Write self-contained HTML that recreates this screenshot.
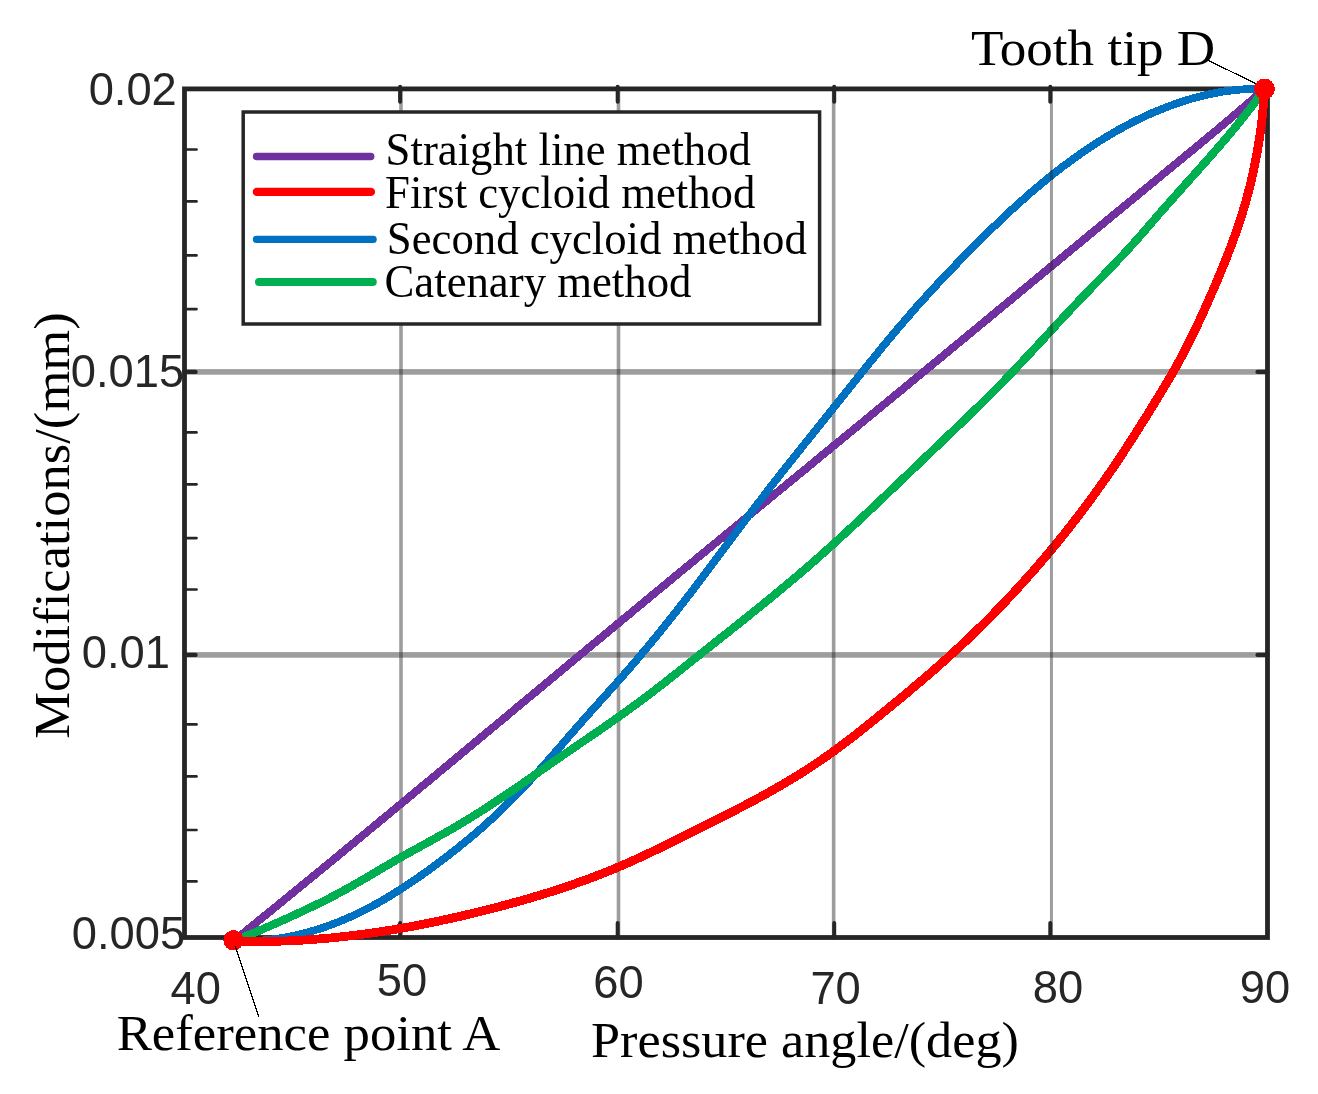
<!DOCTYPE html>
<html><head><meta charset="utf-8"><title>Modification curves</title>
<style>html,body{margin:0;padding:0;background:#fff;}svg{display:block;will-change:transform;}text{font-family:"Liberation Serif",serif;fill:#000;}.tk{font-family:"Liberation Sans",sans-serif;fill:#262626;font-size:45.3px;}</style></head><body>
<svg width="1318" height="1094" viewBox="0 0 1318 1094">
<rect x="0" y="0" width="1318" height="1094" fill="#fff"/>
<g fill="rgba(38,38,38,0.45)">
<rect x="399.20" y="88.9" width="3.6" height="848.6"/>
<rect x="616.70" y="88.9" width="3.6" height="848.6"/>
<rect x="831.85" y="88.9" width="3.6" height="848.6"/>
<rect x="184.5" y="369.1" width="1083.0" height="5.6"/>
<rect x="184.5" y="652.1" width="1083.0" height="5.6"/>
</g>
<rect x="184.5" y="88.9" width="1083.0" height="848.6" fill="none" stroke="#262626" stroke-width="4.8"/>
<g stroke="#262626" stroke-linecap="round" fill="none">
<line x1="184.5" y1="149.5" x2="196.5" y2="149.5" stroke-width="2.7"/>
<line x1="184.5" y1="201.4" x2="196.5" y2="201.4" stroke-width="2.7"/>
<line x1="184.5" y1="255.4" x2="196.5" y2="255.4" stroke-width="2.7"/>
<line x1="184.5" y1="309.1" x2="196.5" y2="309.1" stroke-width="2.7"/>
<line x1="184.5" y1="432.4" x2="196.5" y2="432.4" stroke-width="2.7"/>
<line x1="184.5" y1="484.3" x2="196.5" y2="484.3" stroke-width="2.7"/>
<line x1="184.5" y1="538.1" x2="196.5" y2="538.1" stroke-width="2.7"/>
<line x1="184.5" y1="589.5" x2="196.5" y2="589.5" stroke-width="2.7"/>
<line x1="184.5" y1="724.4" x2="196.5" y2="724.4" stroke-width="2.7"/>
<line x1="184.5" y1="776.4" x2="196.5" y2="776.4" stroke-width="2.7"/>
<line x1="184.5" y1="830.0" x2="196.5" y2="830.0" stroke-width="2.7"/>
<line x1="184.5" y1="881.4" x2="196.5" y2="881.4" stroke-width="2.7"/>
<line x1="184.5" y1="371.9" x2="195.5" y2="371.9" stroke-width="4.4"/>
<line x1="1257.5" y1="371.9" x2="1267.5" y2="371.9" stroke-width="4.2"/>
<line x1="184.5" y1="654.9" x2="195.5" y2="654.9" stroke-width="4.4"/>
<line x1="1257.5" y1="654.9" x2="1267.5" y2="654.9" stroke-width="4.2"/>
<line x1="400.1" y1="86.8" x2="400.1" y2="101.8" stroke-width="4"/>
<line x1="400.1" y1="923" x2="400.1" y2="937.5" stroke-width="4"/>
<line x1="617.7" y1="86.8" x2="617.7" y2="101.8" stroke-width="4"/>
<line x1="617.7" y1="923" x2="617.7" y2="937.5" stroke-width="4"/>
<line x1="834.2" y1="86.8" x2="834.2" y2="101.8" stroke-width="4"/>
<line x1="834.2" y1="923" x2="834.2" y2="937.5" stroke-width="4"/>
<line x1="1050.3" y1="86.8" x2="1050.3" y2="101.8" stroke-width="4"/>
<line x1="1050.3" y1="923" x2="1050.3" y2="937.5" stroke-width="4"/>
</g>
<g fill="none" stroke-linecap="round" stroke-linejoin="round" shape-rendering="crispEdges">
<path d="M233.6 941.0 C235.2 939.7 239.9 935.9 243.1 933.4 C246.2 930.8 249.4 928.3 252.5 925.7 C255.6 923.1 258.8 920.6 261.9 918.0 C265.1 915.5 268.2 912.9 271.4 910.4 C274.5 907.8 277.7 905.2 280.8 902.7 C283.9 900.1 287.1 897.6 290.2 895.0 C293.4 892.4 296.5 889.9 299.6 887.3 C302.8 884.7 305.9 882.2 309.0 879.6 C312.2 877.0 315.3 874.5 318.4 871.9 C321.6 869.3 324.7 866.7 327.8 864.2 C331.0 861.6 334.1 859.0 337.2 856.5 C340.4 853.9 343.5 851.3 346.6 848.7 C349.8 846.1 352.9 843.6 356.0 841.0 C359.1 838.4 362.3 835.8 365.4 833.3 C368.5 830.7 371.6 828.1 374.8 825.5 C377.9 822.9 381.0 820.3 384.1 817.8 C387.3 815.2 390.4 812.6 393.5 810.0 C396.6 807.4 399.8 804.8 402.9 802.3 C406.0 799.7 409.1 797.1 412.2 794.5 C415.4 791.9 418.5 789.3 421.6 786.7 C424.7 784.2 427.8 781.6 431.0 779.0 C434.1 776.4 437.2 773.8 440.3 771.2 C443.4 768.6 446.6 766.0 449.7 763.4 C452.8 760.8 455.9 758.3 459.0 755.7 C462.1 753.1 465.3 750.5 468.4 747.9 C471.5 745.3 474.6 742.7 477.7 740.1 C480.8 737.5 484.0 734.9 487.1 732.3 C490.2 729.7 493.3 727.2 496.4 724.6 C499.5 722.0 502.7 719.4 505.8 716.8 C508.9 714.2 512.0 711.6 515.1 709.0 C518.2 706.4 521.3 703.8 524.5 701.2 C527.6 698.6 530.7 696.0 533.8 693.5 C536.9 690.9 540.0 688.3 543.2 685.7 C546.3 683.1 549.4 680.5 552.5 677.9 C555.6 675.3 558.7 672.7 561.9 670.1 C565.0 667.5 568.1 664.9 571.2 662.4 C574.3 659.8 577.4 657.2 580.6 654.6 C583.7 652.0 586.8 649.4 589.9 646.8 C593.0 644.2 596.2 641.6 599.3 639.1 C602.4 636.5 605.5 633.9 608.6 631.3 C611.8 628.7 614.9 626.1 618.0 623.5 C621.1 620.9 624.2 618.4 627.4 615.8 C630.5 613.2 633.6 610.6 636.7 608.0 C639.9 605.4 643.0 602.9 646.1 600.3 C649.2 597.7 652.4 595.1 655.5 592.5 C658.6 589.9 661.7 587.4 664.9 584.8 C668.0 582.2 671.1 579.6 674.2 577.0 C677.4 574.5 680.5 571.9 683.6 569.3 C686.7 566.7 689.9 564.2 693.0 561.6 C696.1 559.0 699.2 556.4 702.4 553.8 C705.5 551.3 708.6 548.7 711.8 546.1 C714.9 543.5 718.0 541.0 721.1 538.4 C724.3 535.8 727.4 533.2 730.5 530.7 C733.7 528.1 736.8 525.5 739.9 522.9 C743.0 520.4 746.2 517.8 749.3 515.2 C752.4 512.6 755.6 510.1 758.7 507.5 C761.8 504.9 765.0 502.3 768.1 499.8 C771.2 497.2 774.3 494.6 777.5 492.0 C780.6 489.5 783.7 486.9 786.9 484.3 C790.0 481.7 793.1 479.2 796.3 476.6 C799.4 474.0 802.5 471.5 805.7 468.9 C808.8 466.3 811.9 463.7 815.0 461.2 C818.2 458.6 821.3 456.0 824.4 453.4 C827.6 450.9 830.7 448.3 833.8 445.7 C837.0 443.1 840.1 440.6 843.2 438.0 C846.3 435.4 849.5 432.8 852.6 430.3 C855.7 427.7 858.9 425.1 862.0 422.6 C865.1 420.0 868.3 417.4 871.4 414.8 C874.5 412.3 877.6 409.7 880.8 407.1 C883.9 404.5 887.0 402.0 890.2 399.4 C893.3 396.8 896.4 394.2 899.5 391.7 C902.7 389.1 905.8 386.5 908.9 383.9 C912.1 381.3 915.2 378.8 918.3 376.2 C921.4 373.6 924.6 371.0 927.7 368.5 C930.8 365.9 933.9 363.3 937.1 360.7 C940.2 358.1 943.3 355.6 946.5 353.0 C949.6 350.4 952.7 347.8 955.8 345.2 C959.0 342.7 962.1 340.1 965.2 337.5 C968.3 334.9 971.4 332.3 974.6 329.8 C977.7 327.2 980.8 324.6 983.9 322.0 C987.1 319.4 990.2 316.9 993.3 314.3 C996.4 311.7 999.6 309.1 1002.7 306.5 C1005.8 303.9 1008.9 301.4 1012.1 298.8 C1015.2 296.2 1018.3 293.6 1021.4 291.0 C1024.5 288.5 1027.7 285.9 1030.8 283.3 C1033.9 280.7 1037.0 278.1 1040.2 275.5 C1043.3 273.0 1046.4 270.4 1049.5 267.8 C1052.7 265.2 1055.8 262.6 1058.9 260.1 C1062.0 257.5 1065.2 254.9 1068.3 252.3 C1071.4 249.7 1074.5 247.2 1077.7 244.6 C1080.8 242.0 1083.9 239.4 1087.0 236.8 C1090.2 234.3 1093.3 231.7 1096.4 229.1 C1099.5 226.5 1102.7 223.9 1105.8 221.4 C1108.9 218.8 1112.0 216.2 1115.2 213.6 C1118.3 211.1 1121.4 208.5 1124.6 205.9 C1127.7 203.3 1130.8 200.8 1133.9 198.2 C1137.1 195.6 1140.2 193.0 1143.3 190.5 C1146.5 187.9 1149.6 185.3 1152.7 182.7 C1155.9 180.2 1159.0 177.6 1162.1 175.0 C1165.3 172.4 1168.4 169.9 1171.5 167.3 C1174.7 164.7 1177.8 162.2 1180.9 159.6 C1184.0 157.0 1187.2 154.4 1190.3 151.9 C1193.4 149.3 1196.6 146.7 1199.7 144.1 C1202.8 141.5 1205.9 139.0 1209.0 136.4 C1212.2 133.8 1215.3 131.2 1218.4 128.6 C1221.5 126.0 1224.6 123.4 1227.7 120.8 C1230.8 118.1 1233.9 115.5 1236.9 112.9 C1240.0 110.3 1243.1 107.6 1246.2 105.0 C1249.2 102.3 1252.3 99.7 1255.4 97.0 C1258.4 94.4 1263.0 90.3 1264.5 89.0" stroke="#7030A0" stroke-width="7.9"/>
<path d="M233.6 941.0 C235.6 941.0 241.7 941.3 245.8 941.2 C249.8 941.2 253.9 941.0 257.9 940.8 C262.0 940.5 266.0 940.2 270.0 939.7 C274.0 939.2 278.0 938.7 282.0 938.0 C286.0 937.3 289.9 936.6 293.9 935.7 C297.8 934.9 301.7 933.9 305.6 932.9 C309.5 931.8 313.4 930.7 317.3 929.5 C321.1 928.3 325.0 927.0 328.8 925.6 C332.6 924.2 336.4 922.8 340.1 921.3 C343.8 919.7 347.6 918.1 351.2 916.5 C354.9 914.8 358.6 913.1 362.2 911.3 C365.8 909.5 369.4 907.6 372.9 905.7 C376.5 903.8 380.0 901.8 383.5 899.8 C387.0 897.8 390.4 895.7 393.9 893.5 C397.3 891.4 400.7 889.2 404.1 887.0 C407.5 884.8 410.8 882.6 414.2 880.3 C417.5 878.0 420.8 875.7 424.1 873.3 C427.4 871.0 430.7 868.6 434.0 866.2 C437.2 863.8 440.5 861.4 443.7 858.9 C446.9 856.5 450.1 854.0 453.3 851.5 C456.5 849.0 459.6 846.5 462.7 843.9 C465.9 841.3 469.0 838.8 472.1 836.2 C475.2 833.6 478.2 830.9 481.3 828.3 C484.3 825.6 487.3 822.9 490.3 820.2 C493.3 817.5 496.2 814.7 499.2 812.0 C502.1 809.2 505.0 806.4 507.8 803.5 C510.7 800.7 513.6 797.8 516.4 794.9 C519.2 792.0 522.0 789.1 524.7 786.2 C527.5 783.2 530.2 780.3 533.0 777.3 C535.7 774.3 538.4 771.3 541.1 768.3 C543.8 765.3 546.5 762.3 549.1 759.2 C551.8 756.2 554.5 753.2 557.1 750.1 C559.8 747.1 562.4 744.0 565.1 740.9 C567.7 737.9 570.4 734.8 573.1 731.8 C575.7 728.7 578.4 725.7 581.0 722.6 C583.7 719.6 586.4 716.6 589.1 713.6 C591.8 710.5 594.5 707.5 597.2 704.5 C599.9 701.5 602.6 698.5 605.3 695.5 C608.0 692.5 610.7 689.5 613.4 686.5 C616.1 683.5 618.8 680.5 621.4 677.5 C624.1 674.4 626.8 671.4 629.4 668.4 C632.0 665.3 634.7 662.2 637.3 659.2 C639.9 656.1 642.5 653.0 645.1 649.9 C647.7 646.8 650.3 643.7 652.8 640.6 C655.4 637.4 658.0 634.3 660.5 631.2 C663.0 628.0 665.6 624.9 668.1 621.7 C670.6 618.6 673.1 615.4 675.6 612.2 C678.1 609.0 680.6 605.9 683.1 602.7 C685.5 599.5 688.0 596.3 690.5 593.1 C692.9 589.9 695.4 586.6 697.8 583.4 C700.3 580.2 702.7 577.0 705.1 573.7 C707.6 570.5 710.0 567.3 712.4 564.1 C714.8 560.8 717.3 557.6 719.7 554.3 C722.1 551.1 724.5 547.9 726.9 544.6 C729.4 541.4 731.8 538.2 734.2 534.9 C736.6 531.7 739.0 528.4 741.5 525.2 C743.9 522.0 746.3 518.8 748.7 515.5 C751.2 512.3 753.6 509.1 756.1 505.9 C758.5 502.6 761.0 499.4 763.4 496.2 C765.9 493.0 768.3 489.8 770.8 486.6 C773.3 483.4 775.8 480.3 778.3 477.1 C780.8 473.9 783.3 470.7 785.8 467.6 C788.3 464.4 790.8 461.2 793.3 458.1 C795.8 454.9 798.4 451.8 800.9 448.6 C803.4 445.4 805.9 442.3 808.5 439.1 C811.0 436.0 813.5 432.8 816.0 429.7 C818.6 426.6 821.1 423.4 823.6 420.3 C826.2 417.1 828.7 414.0 831.2 410.8 C833.7 407.6 836.3 404.5 838.8 401.3 C841.3 398.2 843.8 395.0 846.3 391.9 C848.9 388.7 851.4 385.6 853.9 382.4 C856.4 379.2 859.0 376.1 861.5 372.9 C864.0 369.8 866.5 366.6 869.1 363.5 C871.6 360.4 874.2 357.2 876.7 354.1 C879.3 351.0 881.8 347.8 884.4 344.7 C887.0 341.6 889.6 338.5 892.1 335.4 C894.7 332.3 897.3 329.2 900.0 326.1 C902.6 323.1 905.2 320.0 907.9 316.9 C910.5 313.9 913.2 310.8 915.8 307.8 C918.5 304.8 921.2 301.8 923.9 298.8 C926.6 295.8 929.4 292.8 932.1 289.8 C934.8 286.8 937.6 283.9 940.4 280.9 C943.1 278.0 945.9 275.0 948.7 272.1 C951.5 269.2 954.3 266.3 957.1 263.4 C959.9 260.5 962.7 257.6 965.6 254.7 C968.4 251.8 971.3 248.9 974.1 246.1 C977.0 243.2 979.8 240.4 982.7 237.5 C985.6 234.7 988.4 231.9 991.3 229.1 C994.2 226.3 997.1 223.5 1000.0 220.7 C1003.0 217.9 1005.9 215.1 1008.8 212.4 C1011.8 209.7 1014.8 206.9 1017.8 204.2 C1020.8 201.5 1023.8 198.9 1026.8 196.2 C1029.8 193.5 1032.9 190.9 1035.9 188.3 C1039.0 185.7 1042.1 183.1 1045.3 180.5 C1048.4 178.0 1051.5 175.4 1054.7 172.9 C1057.9 170.4 1061.1 168.0 1064.3 165.5 C1067.6 163.1 1070.9 160.7 1074.1 158.3 C1077.4 155.9 1080.8 153.6 1084.1 151.3 C1087.5 149.0 1090.8 146.7 1094.2 144.5 C1097.6 142.3 1101.1 140.2 1104.5 138.0 C1108.0 135.9 1111.5 133.9 1115.0 131.8 C1118.5 129.8 1122.0 127.9 1125.6 126.0 C1129.2 124.0 1132.8 122.2 1136.4 120.4 C1140.0 118.6 1143.6 116.9 1147.3 115.2 C1151.0 113.5 1154.7 111.9 1158.4 110.4 C1162.1 108.8 1165.9 107.4 1169.7 106.0 C1173.4 104.6 1177.2 103.2 1181.1 102.0 C1184.9 100.7 1188.7 99.5 1192.6 98.4 C1196.5 97.3 1200.4 96.3 1204.3 95.4 C1208.3 94.5 1212.2 93.6 1216.2 92.8 C1220.1 92.1 1224.1 91.4 1228.1 90.9 C1232.1 90.3 1236.2 89.9 1240.2 89.6 C1244.2 89.2 1248.3 89.0 1252.3 88.9 C1256.4 88.8 1262.5 89.0 1264.5 89.0" stroke="#0070C0" stroke-width="7.8"/>
<path d="M233.6 941.0 C235.5 940.3 241.1 938.1 244.9 936.6 C248.7 935.1 252.4 933.5 256.1 931.9 C259.9 930.4 263.6 928.8 267.3 927.1 C271.0 925.5 274.8 923.9 278.5 922.2 C282.2 920.6 285.9 918.9 289.6 917.2 C293.2 915.5 296.9 913.8 300.6 912.1 C304.3 910.4 308.0 908.7 311.6 906.9 C315.3 905.2 318.9 903.4 322.6 901.6 C326.2 899.8 329.8 898.0 333.4 896.1 C337.0 894.2 340.5 892.3 344.1 890.3 C347.6 888.4 351.2 886.4 354.7 884.4 C358.2 882.4 361.7 880.3 365.2 878.3 C368.7 876.2 372.2 874.2 375.7 872.1 C379.2 870.0 382.6 868.0 386.1 865.9 C389.6 863.9 393.1 861.8 396.7 859.8 C400.2 857.8 403.7 855.8 407.2 853.8 C410.8 851.8 414.3 849.8 417.9 847.9 C421.4 845.9 425.0 844.0 428.6 842.0 C432.1 840.1 435.7 838.1 439.2 836.1 C442.8 834.1 446.3 832.2 449.8 830.1 C453.3 828.1 456.8 826.1 460.3 824.0 C463.8 821.9 467.2 819.8 470.7 817.7 C474.1 815.5 477.6 813.4 481.0 811.2 C484.4 809.0 487.8 806.8 491.2 804.6 C494.6 802.4 497.9 800.1 501.3 797.9 C504.7 795.6 508.0 793.3 511.4 791.1 C514.7 788.8 518.0 786.5 521.4 784.2 C524.7 781.9 528.1 779.6 531.4 777.2 C534.7 774.9 538.0 772.6 541.4 770.3 C544.7 768.0 548.0 765.7 551.3 763.3 C554.7 761.0 558.0 758.7 561.3 756.4 C564.7 754.1 568.0 751.8 571.4 749.5 C574.7 747.2 578.1 744.9 581.4 742.6 C584.7 740.3 588.1 738.1 591.4 735.8 C594.8 733.5 598.1 731.2 601.5 728.9 C604.8 726.6 608.1 724.3 611.4 721.9 C614.8 719.6 618.1 717.3 621.4 714.9 C624.7 712.6 628.0 710.2 631.2 707.8 C634.5 705.4 637.8 703.0 641.0 700.6 C644.3 698.2 647.5 695.7 650.7 693.3 C653.9 690.8 657.2 688.4 660.4 685.9 C663.6 683.4 666.7 680.9 669.9 678.4 C673.1 675.9 676.3 673.3 679.5 670.8 C682.6 668.3 685.8 665.8 689.0 663.2 C692.1 660.7 695.3 658.2 698.5 655.7 C701.7 653.1 704.8 650.6 708.0 648.1 C711.2 645.6 714.4 643.0 717.5 640.5 C720.7 638.0 723.9 635.5 727.1 633.0 C730.2 630.4 733.4 627.9 736.6 625.4 C739.8 622.9 742.9 620.3 746.1 617.8 C749.3 615.3 752.4 612.7 755.6 610.2 C758.7 607.6 761.9 605.1 765.0 602.5 C768.2 600.0 771.3 597.4 774.4 594.8 C777.6 592.3 780.7 589.7 783.8 587.1 C786.9 584.5 790.0 581.9 793.1 579.3 C796.2 576.7 799.3 574.0 802.4 571.4 C805.5 568.8 808.5 566.1 811.6 563.4 C814.6 560.8 817.7 558.1 820.7 555.4 C823.7 552.7 826.7 550.0 829.8 547.3 C832.8 544.6 835.8 541.8 838.8 539.1 C841.8 536.4 844.8 533.6 847.7 530.9 C850.7 528.1 853.7 525.4 856.7 522.6 C859.6 519.9 862.6 517.1 865.5 514.3 C868.5 511.5 871.5 508.8 874.4 506.0 C877.3 503.2 880.3 500.4 883.2 497.6 C886.2 494.8 889.1 492.0 892.0 489.2 C895.0 486.4 897.9 483.6 900.8 480.8 C903.8 478.0 906.7 475.2 909.6 472.4 C912.6 469.6 915.5 466.8 918.4 464.0 C921.3 461.2 924.3 458.4 927.2 455.6 C930.1 452.8 933.0 450.0 936.0 447.2 C938.9 444.4 941.8 441.6 944.8 438.8 C947.7 436.0 950.6 433.2 953.6 430.4 C956.5 427.6 959.4 424.8 962.4 422.0 C965.3 419.2 968.2 416.4 971.1 413.6 C974.0 410.8 976.9 407.9 979.8 405.1 C982.7 402.3 985.6 399.4 988.5 396.5 C991.4 393.7 994.2 390.8 997.1 387.9 C999.9 385.0 1002.8 382.1 1005.6 379.2 C1008.4 376.3 1011.2 373.4 1014.0 370.4 C1016.8 367.5 1019.6 364.5 1022.3 361.6 C1025.1 358.6 1027.9 355.7 1030.6 352.7 C1033.4 349.7 1036.2 346.8 1038.9 343.8 C1041.7 340.8 1044.4 337.8 1047.2 334.9 C1049.9 331.9 1052.7 328.9 1055.4 325.9 C1058.2 323.0 1060.9 320.0 1063.7 317.0 C1066.5 314.0 1069.2 311.1 1072.0 308.1 C1074.8 305.2 1077.6 302.2 1080.4 299.3 C1083.2 296.4 1086.0 293.4 1088.8 290.5 C1091.6 287.6 1094.4 284.7 1097.3 281.8 C1100.1 278.9 1102.9 276.0 1105.7 273.0 C1108.5 270.1 1111.3 267.2 1114.1 264.3 C1116.9 261.3 1119.7 258.4 1122.5 255.4 C1125.2 252.5 1128.0 249.5 1130.7 246.5 C1133.4 243.5 1136.1 240.5 1138.8 237.4 C1141.5 234.4 1144.1 231.3 1146.8 228.3 C1149.4 225.2 1152.1 222.1 1154.7 219.1 C1157.4 216.0 1160.1 212.9 1162.7 209.9 C1165.4 206.9 1168.1 203.8 1170.8 200.8 C1173.5 197.7 1176.2 194.7 1178.9 191.7 C1181.6 188.7 1184.3 185.7 1187.0 182.6 C1189.7 179.6 1192.4 176.6 1195.1 173.6 C1197.8 170.6 1200.5 167.5 1203.2 164.5 C1205.9 161.5 1208.6 158.4 1211.3 155.4 C1213.9 152.3 1216.6 149.3 1219.3 146.2 C1221.9 143.2 1224.5 140.1 1227.2 137.0 C1229.8 133.9 1232.4 130.8 1235.0 127.6 C1237.5 124.5 1240.1 121.4 1242.6 118.2 C1245.1 115.0 1247.6 111.8 1250.1 108.6 C1252.6 105.4 1255.0 102.2 1257.4 98.9 C1259.8 95.6 1263.3 90.6 1264.5 89.0" stroke="#00B050" stroke-width="8.2"/>
<path d="M233.6 941.0 C235.6 941.1 241.7 941.3 245.7 941.3 C249.8 941.4 253.8 941.4 257.8 941.4 C261.9 941.4 265.9 941.4 269.9 941.4 C274.0 941.3 278.0 941.2 282.0 941.1 C286.1 940.9 290.1 940.8 294.1 940.6 C298.2 940.4 302.2 940.1 306.2 939.9 C310.2 939.6 314.3 939.3 318.3 939.0 C322.3 938.7 326.3 938.3 330.3 938.0 C334.3 937.6 338.4 937.2 342.4 936.7 C346.4 936.3 350.4 935.8 354.4 935.3 C358.4 934.8 362.4 934.3 366.4 933.8 C370.4 933.2 374.4 932.6 378.4 932.0 C382.3 931.4 386.3 930.8 390.3 930.2 C394.3 929.5 398.3 928.8 402.2 928.1 C406.2 927.4 410.2 926.7 414.2 926.0 C418.1 925.2 422.1 924.4 426.0 923.7 C430.0 922.9 433.9 922.0 437.9 921.2 C441.8 920.4 445.8 919.5 449.7 918.6 C453.7 917.8 457.6 916.9 461.5 916.0 C465.5 915.0 469.4 914.1 473.3 913.2 C477.2 912.2 481.2 911.3 485.1 910.3 C489.0 909.3 492.9 908.3 496.8 907.3 C500.7 906.3 504.6 905.2 508.5 904.2 C512.4 903.1 516.3 902.0 520.2 900.9 C524.0 899.8 527.9 898.7 531.8 897.6 C535.7 896.4 539.5 895.3 543.4 894.1 C547.2 892.9 551.1 891.7 554.9 890.5 C558.8 889.2 562.6 888.0 566.4 886.7 C570.2 885.4 574.0 884.1 577.8 882.7 C581.6 881.4 585.4 880.0 589.2 878.6 C593.0 877.2 596.7 875.8 600.5 874.3 C604.2 872.8 608.0 871.3 611.7 869.8 C615.4 868.3 619.1 866.7 622.8 865.1 C626.5 863.5 630.2 861.9 633.9 860.2 C637.6 858.5 641.2 856.8 644.9 855.1 C648.6 853.4 652.2 851.7 655.9 849.9 C659.5 848.2 663.1 846.4 666.8 844.7 C670.4 842.9 674.0 841.1 677.6 839.3 C681.3 837.5 684.9 835.7 688.5 833.9 C692.1 832.2 695.7 830.3 699.3 828.5 C702.9 826.7 706.5 824.9 710.1 823.1 C713.8 821.3 717.4 819.4 720.9 817.6 C724.5 815.8 728.1 813.9 731.7 812.1 C735.3 810.2 738.9 808.4 742.5 806.5 C746.1 804.6 749.6 802.8 753.2 800.9 C756.7 799.0 760.3 797.0 763.8 795.1 C767.4 793.2 770.9 791.2 774.4 789.2 C777.9 787.2 781.4 785.2 784.9 783.1 C788.3 781.1 791.8 779.0 795.2 776.9 C798.7 774.8 802.1 772.6 805.5 770.5 C808.9 768.3 812.2 766.1 815.6 763.8 C818.9 761.6 822.3 759.3 825.6 757.0 C828.9 754.7 832.2 752.4 835.4 750.0 C838.7 747.6 841.9 745.2 845.1 742.8 C848.4 740.3 851.6 737.9 854.7 735.4 C857.9 732.9 861.1 730.4 864.2 727.9 C867.4 725.4 870.5 722.8 873.7 720.3 C876.8 717.8 879.9 715.2 883.1 712.6 C886.2 710.1 889.3 707.5 892.4 705.0 C895.5 702.4 898.7 699.8 901.8 697.3 C904.9 694.7 908.0 692.1 911.0 689.5 C914.1 686.9 917.2 684.3 920.3 681.7 C923.3 679.1 926.4 676.5 929.5 673.8 C932.5 671.2 935.5 668.5 938.6 665.9 C941.6 663.2 944.6 660.5 947.6 657.8 C950.6 655.1 953.6 652.4 956.5 649.6 C959.5 646.9 962.4 644.1 965.4 641.4 C968.3 638.6 971.2 635.8 974.1 633.0 C977.0 630.2 979.9 627.4 982.8 624.5 C985.7 621.7 988.5 618.8 991.3 616.0 C994.2 613.1 997.0 610.2 999.8 607.3 C1002.6 604.4 1005.4 601.5 1008.2 598.5 C1010.9 595.6 1013.7 592.7 1016.4 589.7 C1019.1 586.7 1021.8 583.7 1024.5 580.7 C1027.2 577.7 1029.9 574.7 1032.6 571.7 C1035.2 568.7 1037.9 565.6 1040.5 562.5 C1043.1 559.5 1045.8 556.4 1048.3 553.3 C1050.9 550.2 1053.5 547.1 1056.1 544.0 C1058.6 540.9 1061.2 537.7 1063.7 534.6 C1066.2 531.4 1068.7 528.3 1071.2 525.1 C1073.7 521.9 1076.1 518.7 1078.6 515.5 C1081.0 512.3 1083.5 509.1 1085.9 505.9 C1088.3 502.7 1090.7 499.4 1093.1 496.1 C1095.4 492.9 1097.8 489.6 1100.1 486.3 C1102.5 483.0 1104.8 479.7 1107.1 476.4 C1109.4 473.1 1111.7 469.8 1114.0 466.5 C1116.2 463.1 1118.5 459.8 1120.7 456.4 C1122.9 453.1 1125.1 449.7 1127.3 446.3 C1129.5 442.9 1131.7 439.5 1133.9 436.1 C1136.0 432.7 1138.2 429.3 1140.3 425.9 C1142.5 422.5 1144.6 419.0 1146.8 415.6 C1148.9 412.2 1151.0 408.7 1153.1 405.3 C1155.2 401.9 1157.3 398.4 1159.4 395.0 C1161.5 391.5 1163.6 388.1 1165.7 384.6 C1167.7 381.1 1169.8 377.7 1171.8 374.2 C1173.8 370.7 1175.8 367.2 1177.7 363.7 C1179.7 360.1 1181.6 356.6 1183.5 353.0 C1185.4 349.5 1187.2 345.9 1189.0 342.3 C1190.8 338.7 1192.6 335.1 1194.3 331.5 C1196.1 327.8 1197.8 324.2 1199.5 320.5 C1201.2 316.9 1202.8 313.2 1204.5 309.5 C1206.2 305.8 1207.8 302.1 1209.4 298.4 C1211.0 294.7 1212.7 291.0 1214.3 287.3 C1215.9 283.6 1217.4 279.9 1219.0 276.2 C1220.6 272.4 1222.1 268.7 1223.6 265.0 C1225.1 261.2 1226.6 257.5 1228.1 253.7 C1229.5 249.9 1231.0 246.2 1232.4 242.4 C1233.8 238.6 1235.1 234.8 1236.5 231.0 C1237.8 227.2 1239.1 223.4 1240.3 219.5 C1241.6 215.7 1242.8 211.9 1243.9 208.0 C1245.1 204.1 1246.2 200.3 1247.2 196.4 C1248.3 192.5 1249.3 188.6 1250.3 184.7 C1251.2 180.7 1252.2 176.8 1253.0 172.9 C1253.9 168.9 1254.7 165.0 1255.5 161.0 C1256.3 157.1 1257.0 153.1 1257.7 149.1 C1258.4 145.2 1259.1 141.2 1259.6 137.2 C1260.2 133.2 1260.8 129.2 1261.3 125.2 C1261.8 121.2 1262.2 117.2 1262.6 113.1 C1263.0 109.1 1263.4 105.1 1263.7 101.1 C1264.0 97.1 1264.4 91.0 1264.5 89.0" stroke="#FF0000" stroke-width="8.8"/>
</g>
<rect x="1049.95" y="88.9" width="3.0" height="848.6" fill="rgba(38,38,38,0.45)"/>
<circle cx="1264.5" cy="89" r="10.4" fill="#FF0000" shape-rendering="crispEdges"/>
<circle cx="233.6" cy="940.3" r="10.2" fill="#FF0000" shape-rendering="crispEdges"/>
<g stroke="#000" stroke-width="1.25" shape-rendering="crispEdges">
<line x1="1208" y1="60.3" x2="1255.7" y2="83.5"/>
<line x1="235.2" y1="945.8" x2="258.9" y2="1016.9"/>
</g>
<rect x="243.2" y="112" width="576.4" height="212" fill="#fff" stroke="#262626" stroke-width="3.5"/>
<g stroke-linecap="round" fill="none">
<line x1="256.5" y1="156.5" x2="370.8" y2="156.5" stroke="#7030A0" stroke-width="7.3"/>
<line x1="256.9" y1="191.9" x2="370.9" y2="191.9" stroke="#FF0000" stroke-width="8.4"/>
<line x1="256.4" y1="239.4" x2="373.2" y2="239.4" stroke="#0070C0" stroke-width="7.1"/>
<line x1="259" y1="282.1" x2="372.8" y2="282.1" stroke="#00B050" stroke-width="8"/>
</g>
<g font-size="44.75px">
<text transform="translate(385.6,165.3) scale(1,1.060)">Straight line method</text>
<text transform="translate(385.0,207.7) scale(1,1.060)">First cycloid method</text>
<text transform="translate(386.8,254.3) scale(1,1.060)">Second cycloid method</text>
<text transform="translate(384.5,296.9) scale(1,1.060)">Catenary method</text>
</g>
<g class="tk" text-anchor="end">
<text class="tk" x="176.8" y="104.6">0.02</text>
<text class="tk" x="184.2" y="386.5">0.015</text>
<text class="tk" x="170" y="667.7">0.01</text>
<text class="tk" x="185.2" y="948.9">0.005</text>
</g>
<g class="tk" text-anchor="middle">
<text class="tk" x="195.8" y="1003.6">40</text>
<text class="tk" x="402.0" y="996.2">50</text>
<text class="tk" x="618.4" y="997.8">60</text>
<text class="tk" x="835.6" y="1003.7">70</text>
<text class="tk" x="1058.0" y="1003.3">80</text>
<text class="tk" x="1265.0" y="1003.3">90</text>
</g>
<g>
<text transform="translate(591,1056.5) scale(1,0.972)" font-size="52.25px">Pressure angle/(deg)</text>
<text transform="translate(116.7,1049.8) scale(1,0.972)" font-size="52.75px">Reference point A</text>
<text transform="translate(971,65) scale(1,0.972)" font-size="53.1px">Tooth tip D</text>
<text transform="translate(68.8,738.8) rotate(-90) scale(1,0.972)" font-size="52.6px">Modifications/(mm)</text>
</g>
</svg></body></html>
